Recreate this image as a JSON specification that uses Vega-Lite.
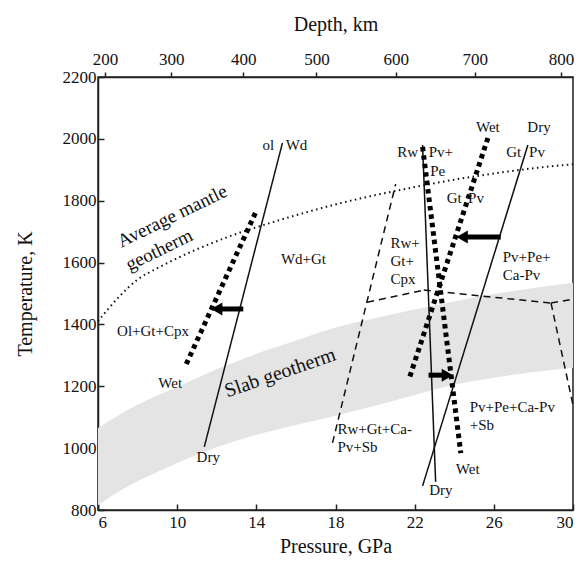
{
 "$schema": "https://vega.github.io/schema/vega-lite/v6.json",
 "width": 475, "height": 433,
 "autosize": "none",
 "padding": {"left": 98, "top": 77, "right": 15, "bottom": 58},
 "background": "white",
 "config": {
   "view": {"stroke": "#222", "strokeWidth": 1.5},
   "font": "Liberation Serif",
   "axis": {"domainColor": "#222", "domainWidth": 1.5, "tickColor": "#222", "tickWidth": 1.5, "labelFont": "Liberation Serif", "labelFontSize": 17, "labelColor": "#111", "titleFont": "Liberation Serif", "titleFontSize": 20, "titleFontWeight": "normal", "titleColor": "#111", "grid": false},
   "text": {"font": "Liberation Serif", "fontSize": 15, "color": "#111"}
 },
 "datasets": {
   "band": [{"P":6,"lo":815,"hi":1065},{"P":7,"lo":858,"hi":1105},{"P":8,"lo":893,"hi":1140},{"P":9,"lo":923,"hi":1170},{"P":10,"lo":952,"hi":1198},{"P":12,"lo":1003,"hi":1255},{"P":14,"lo":1043,"hi":1305},{"P":16,"lo":1075,"hi":1348},{"P":18,"lo":1105,"hi":1390},{"P":20,"lo":1137,"hi":1420},{"P":22,"lo":1172,"hi":1448},{"P":24,"lo":1205,"hi":1474},{"P":26,"lo":1228,"hi":1498},{"P":28,"lo":1246,"hi":1518},{"P":30,"lo":1260,"hi":1535}],
   "geotherm": [{"P":6,"T":1410},{"P":7,"T":1485},{"P":8,"T":1545},{"P":9,"T":1582},{"P":10,"T":1614},{"P":11,"T":1643},{"P":12,"T":1669},{"P":13,"T":1693},{"P":14,"T":1714},{"P":16,"T":1753},{"P":18,"T":1788},{"P":20,"T":1818},{"P":22,"T":1844},{"P":24,"T":1868},{"P":26,"T":1888},{"P":28,"T":1905},{"P":30,"T":1918}],
   "solid": [{"P":11.37,"T":1004,"P2":15.32,"T2":1987},{"P":22.4,"T":1980,"P2":23.06,"T2":891},{"P":27.72,"T":1980,"P2":22.4,"T2":878}],
   "dashed": [{"P":17.85,"T":1017,"P2":21.04,"T2":1854},{"P":19.6,"T":1472,"P2":22.46,"T2":1511},{"P":22.46,"T":1511,"P2":28.89,"T2":1469},{"P":28.89,"T":1469,"P2":30,"T2":1482},{"P":28.89,"T":1469,"P2":30,"T2":1139}],
   "wet": [{"P":10.46,"T":1272,"P2":14.0,"T2":1767},{"P":22.4,"T":1974,"P2":24.33,"T2":984},{"P":25.7,"T":2003,"P2":21.75,"T2":1230}],
   "shafts": [{"P":13.34,"T":1450,"P2":12.0,"T2":1450},{"P":26.35,"T":1683,"P2":24.4,"T2":1683},{"P":22.7,"T":1236,"P2":23.65,"T2":1236}],
   "headsL": [{"P":12.0,"T":1450},{"P":24.4,"T":1683}],
   "headsR": [{"P":23.65,"T":1236}],
   "labels": [{"P":14.6,"T":1980,"label":"ol"},{"P":16.03,"T":1980,"label":"Wd"},{"P":16.38,"T":1611,"label":"Wd+Gt"},{"P":8.78,"T":1379,"label":"Ol+Gt+Cpx"},{"P":9.65,"T":1211,"label":"Wet"},{"P":11.57,"T":971,"label":"Dry"},{"P":21.65,"T":1957,"label":"Rw"},{"P":23.32,"T":1957,"label":"Pv+"},{"P":23.16,"T":1896,"label":"Pe"},{"P":25.7,"T":2038,"label":"Wet"},{"P":28.28,"T":2038,"label":"Dry"},{"P":27.0,"T":1957,"label":"Gt"},{"P":28.18,"T":1957,"label":"Pv"},{"P":24.0,"T":1809,"label":"Gt"},{"P":25.1,"T":1809,"label":"Pv"},{"P":24.68,"T":933,"label":"Wet"},{"P":23.32,"T":865,"label":"Dry"}],
   "blocks": [{"P":20.78,"T":1686,"label":"Rw+\nGt+\nCpx"},{"P":26.45,"T":1641,"label":"Pv+Pe+\nCa-Pv"},{"P":24.78,"T":1156,"label":"Pv+Pe+Ca-Pv\n+Sb"},{"P":18.1,"T":1085,"label":"Rw+Gt+Ca-\nPv+Sb"}],
   "mantleLabel": [{"P":9.75,"T":1750,"label":"Average mantle"},{"P":9.09,"T":1641,"label":"geotherm"}],
   "slabLabel": [{"P":15.2,"T":1243,"label":"Slab geotherm"}]
 },
 "resolve": {"axis": {"x": "independent"}},
 "layer": [
   {"data": {"name": "band"},
    "mark": {"type": "area", "color": "#e4e4e4", "interpolate": "monotone"},
    "encoding": {
      "x": {"field": "P", "type": "quantitative", "scale": {"domain": [6, 30], "nice": false, "zero": false},
            "axis": {"orient": "bottom", "values": [6,10,14,18,22,26,30], "title": "Pressure, GPa", "tickSize": -6, "labelPadding": 10, "titlePadding": 6}},
      "y": {"field": "lo", "type": "quantitative", "scale": {"domain": [800, 2200], "nice": false, "zero": false},
            "axis": {"values": [800,1000,1200,1400,1600,1800,2000,2200], "format": "d", "title": "Temperature, K", "tickSize": -6, "labelPadding": 8, "titlePadding": 27}},
      "y2": {"field": "hi"}
    }},
   {"data": {"name": "geotherm"},
    "mark": {"type": "line", "color": "#111", "strokeWidth": 2, "strokeDash": [1.5, 3.5], "interpolate": "monotone"},
    "encoding": {
      "x": {"field": "P", "type": "quantitative",
            "axis": {"orient": "top", "values": [6.35, 9.70, 13.34, 17.04, 21.04, 25.04, 29.39], "labelExpr": "datum.value < 8 ? '200' : datum.value < 11 ? '300' : datum.value < 15 ? '400' : datum.value < 19 ? '500' : datum.value < 23 ? '600' : datum.value < 27 ? '700' : '800'", "title": "Depth, km", "tickSize": 5, "labelPadding": 4, "titlePadding": 16}},
      "y": {"field": "T", "type": "quantitative"}
    }},
   {"data": {"name": "solid"},
    "mark": {"type": "rule", "color": "#111", "strokeWidth": 1.5},
    "encoding": {"x": {"field": "P", "type": "quantitative", "axis": null}, "y": {"field": "T", "type": "quantitative"}, "x2": {"field": "P2"}, "y2": {"field": "T2"}}},
   {"data": {"name": "dashed"},
    "mark": {"type": "rule", "color": "#111", "strokeWidth": 1.5, "strokeDash": [7, 5]},
    "encoding": {"x": {"field": "P", "type": "quantitative", "axis": null}, "y": {"field": "T", "type": "quantitative"}, "x2": {"field": "P2"}, "y2": {"field": "T2"}}},
   {"data": {"name": "wet"},
    "mark": {"type": "rule", "color": "#000", "strokeWidth": 5, "strokeDash": [4.5, 4]},
    "encoding": {"x": {"field": "P", "type": "quantitative", "axis": null}, "y": {"field": "T", "type": "quantitative"}, "x2": {"field": "P2"}, "y2": {"field": "T2"}}},
   {"data": {"name": "shafts"},
    "mark": {"type": "rule", "color": "#000", "strokeWidth": 5},
    "encoding": {"x": {"field": "P", "type": "quantitative", "axis": null}, "y": {"field": "T", "type": "quantitative"}, "x2": {"field": "P2"}, "y2": {"field": "T2"}}},
   {"data": {"name": "headsL"},
    "mark": {"type": "point", "shape": "triangle-left", "filled": true, "color": "#000", "opacity": 1, "size": 170},
    "encoding": {"x": {"field": "P", "type": "quantitative", "axis": null}, "y": {"field": "T", "type": "quantitative"}}},
   {"data": {"name": "headsR"},
    "mark": {"type": "point", "shape": "triangle-right", "filled": true, "color": "#000", "opacity": 1, "size": 170},
    "encoding": {"x": {"field": "P", "type": "quantitative", "axis": null}, "y": {"field": "T", "type": "quantitative"}}},
   {"data": {"name": "labels"},
    "mark": {"type": "text", "fontSize": 15, "align": "center", "baseline": "middle"},
    "encoding": {"x": {"field": "P", "type": "quantitative", "axis": null}, "y": {"field": "T", "type": "quantitative"}, "text": {"field": "label"}}},
   {"data": {"name": "blocks"},
    "mark": {"type": "text", "fontSize": 15, "align": "left", "baseline": "top", "lineBreak": "\n", "lineHeight": 18},
    "encoding": {"x": {"field": "P", "type": "quantitative", "axis": null}, "y": {"field": "T", "type": "quantitative"}, "text": {"field": "label"}}},
   {"data": {"name": "mantleLabel"},
    "mark": {"type": "text", "fontSize": 19, "align": "center", "baseline": "middle", "angle": 334},
    "encoding": {"x": {"field": "P", "type": "quantitative", "axis": null}, "y": {"field": "T", "type": "quantitative"}, "text": {"field": "label"}}},
   {"data": {"name": "slabLabel"},
    "mark": {"type": "text", "fontSize": 20, "align": "center", "baseline": "middle", "angle": 341},
    "encoding": {"x": {"field": "P", "type": "quantitative", "axis": null}, "y": {"field": "T", "type": "quantitative"}, "text": {"field": "label"}}}
 ]
}
